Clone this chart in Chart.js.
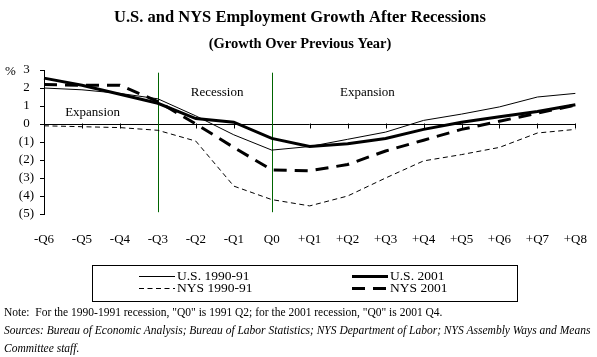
<!DOCTYPE html>
<html><head><meta charset="utf-8">
<script src="https://cdn.jsdelivr.net/npm/chart.js@4/dist/chart.umd.min.js"></script>
<style>html,body{margin:0;padding:0;background:#fff;overflow:hidden}canvas{display:block}</style>
</head><body>
<canvas id="c" width="597" height="357"></canvas>
<script>
// ---- data ----
const categories = ['-Q6','-Q5','-Q4','-Q3','-Q2','-Q1','Q0','+Q1','+Q2','+Q3','+Q4','+Q5','+Q6','+Q7','+Q8'];
const us1990  = [2.0, 1.9, 1.7, 1.4, 0.45, -0.6, -1.45, -1.25, -0.85, -0.45, 0.2, 0.55, 0.95, 1.5, 1.7];
const us2001  = [2.55, 2.15, 1.65, 1.15, 0.3, 0.1, -0.8, -1.25, -1.1, -0.8, -0.3, 0.1, 0.4, 0.7, 1.07];
const nys1990 = [-0.1, -0.15, -0.2, -0.35, -0.95, -3.45, -4.2, -4.55, -4.0, -3.0, -2.05, -1.7, -1.3, -0.5, -0.3];
const nys2001 = [2.2, 2.15, 2.15, 1.25, 0.0, -1.3, -2.55, -2.6, -2.25, -1.5, -0.9, -0.3, 0.15, 0.6, 1.05];
const seriesNames = ['U.S. 1990-91', 'U.S. 2001', 'NYS 1990-91', 'NYS 2001'];
const yMin = -5, yMax = 3;
const recessionMarks = ['-Q3', 'Q0'];
const titleText = 'U.S. and NYS Employment Growth After Recessions';
const subtitleText = '(Growth Over Previous Year)';
const noteText = 'Note:  For the 1990-1991 recession, "Q0" is 1991 Q2; for the 2001 recession, "Q0" is 2001 Q4.';
const sourceLines = ['Sources: Bureau of Economic Analysis; Bureau of Labor Statistics; NYS Department of Labor; NYS Assembly Ways and Means', 'Committee staff.'];

const SERIF = '"Liberation Serif", "DejaVu Serif", serif';

function lerpX(xs, idx){
  const i = Math.floor(idx), f = idx - i;
  const a = xs.getPixelForValue(i), b = xs.getPixelForValue(Math.min(i+1, categories.length-1));
  return a + (b - a) * f;
}

const decor = {
  id: 'decor',
  beforeDatasetsDraw(chart){
    const {ctx, scales:{x, y}, chartArea:a} = chart;
    ctx.save();
    ctx.strokeStyle = '#000'; ctx.lineWidth = 1;
    const y0 = Math.round(y.getPixelForValue(0)) + 0.5;
    ctx.beginPath();
    ctx.moveTo(a.left, y0); ctx.lineTo(a.right, y0);
    categories.forEach((c, i) => {
      if (i === 0) return;
      const px = Math.round(x.getPixelForValue(i)) + 0.5;
      ctx.moveTo(px, y0 - 1); ctx.lineTo(px, y0 + 4);
    });
    ctx.stroke();
    ctx.strokeStyle = '#006400';
    recessionMarks.forEach(m => {
      const px = Math.round(x.getPixelForValue(categories.indexOf(m))) + 0.5;
      ctx.beginPath();
      ctx.moveTo(px, y.getPixelForValue(2.85));
      ctx.lineTo(px, y.getPixelForValue(-4.9));
      ctx.stroke();
    });
    ctx.restore();
  },
  afterDraw(chart){
    const {ctx, scales:{x, y}} = chart;
    ctx.save();
    ctx.fillStyle = '#000';
    ctx.textBaseline = 'middle';
    // titles
    ctx.textAlign = 'center';
    ctx.font = 'bold 16.5px ' + SERIF;
    ctx.fillText(titleText, 300, 18);
    ctx.font = 'bold 14.5px ' + SERIF;
    ctx.fillText(subtitleText, 300, 44);
    // % label
    ctx.font = '13px ' + SERIF;
    ctx.textAlign = 'left';
    ctx.fillText('%', 5, 72);
    // annotations
    ctx.textAlign = 'center';
    ctx.font = '13px ' + SERIF;
    ctx.fillText('Expansion', lerpX(x, 1.28), y.getPixelForValue(0.63));
    ctx.fillText('Recession', lerpX(x, 4.56), y.getPixelForValue(1.72));
    ctx.fillText('Expansion', lerpX(x, 8.52), y.getPixelForValue(1.72));
    // legend box
    const bx = 92.5, by = 265.5, bw = 425, bh = 36;
    ctx.strokeStyle = '#000'; ctx.lineWidth = 1;
    ctx.strokeRect(bx, by, bw, bh);
    const cols = [139, 352], rows = [276, 288], sampleW = 36;
    chart.data.datasets.forEach((ds, i) => {
      const cx = cols[i % 2], cy = rows[Math.floor(i / 2)];
      ctx.save();
      ctx.lineWidth = ds.borderWidth;
      ctx.setLineDash(ds.borderDash || []);
      ctx.strokeStyle = ds.borderColor;
      ctx.beginPath();
      const ly = Math.round(cy) + (ds.borderWidth % 2 ? 0.5 : 0);
      ctx.moveTo(cx, ly);
      ctx.lineTo(cx + sampleW, ly);
      ctx.stroke();
      ctx.restore();
      ctx.textAlign = 'left';
      ctx.font = '13.5px ' + SERIF;
      ctx.fillText(ds.label, cx + sampleW + 2, cy);
    });
    // notes
    ctx.font = '11.5px ' + SERIF;
    ctx.fillText(noteText, 4, 313);
    ctx.font = 'italic 11.5px ' + SERIF;
    ctx.fillText(sourceLines[0], 4, 331);
    ctx.fillText(sourceLines[1], 4, 349);
    ctx.restore();
  }
};

const tickFont = {family: SERIF, size: 13};
new Chart(document.getElementById('c'), {
  type: 'line',
  data: {
    labels: categories,
    datasets: [
      {label: seriesNames[0], data: us1990, borderColor: '#000', borderWidth: 1, pointRadius: 0, tension: 0},
      {label: seriesNames[1], data: us2001, borderColor: '#000', borderWidth: 3, pointRadius: 0, tension: 0},
      {label: seriesNames[2], data: nys1990, borderColor: '#000', borderWidth: 1, borderDash: [5, 3.5], pointRadius: 0, tension: 0},
      {label: seriesNames[3], data: nys2001, borderColor: '#000', borderWidth: 3, borderDash: [13, 8], pointRadius: 0, tension: 0}
    ]
  },
  options: {
    responsive: false,
    animation: false,
    events: [],
    layout: {padding: {top: 70, left: 0, right: 17, bottom: 103}},
    plugins: {legend: {display: false}, tooltip: {enabled: false}, title: {display: false}},
    scales: {
      x: {
        grid: {display: false}, border: {display: false},
        ticks: {font: tickFont, color: '#000', padding: 10, maxRotation: 0, autoSkip: false},
        afterFit(s){ s.height = 40; }
      },
      y: {
        min: yMin, max: yMax,
        ticks: {stepSize: 1, autoSkip: false, font: tickFont, color: '#000', padding: 6, crossAlign: 'center',
                callback: v => v < 0 ? '(' + (-v) + ')' : String(v)},
        grid: {drawOnChartArea: false, drawTicks: true, tickLength: 4, color: '#000'},
        border: {display: true, color: '#000', width: 1},
        afterFit(s){ s.width = 44; }
      }
    }
  },
  plugins: [decor]
});
</script>
</body></html>
